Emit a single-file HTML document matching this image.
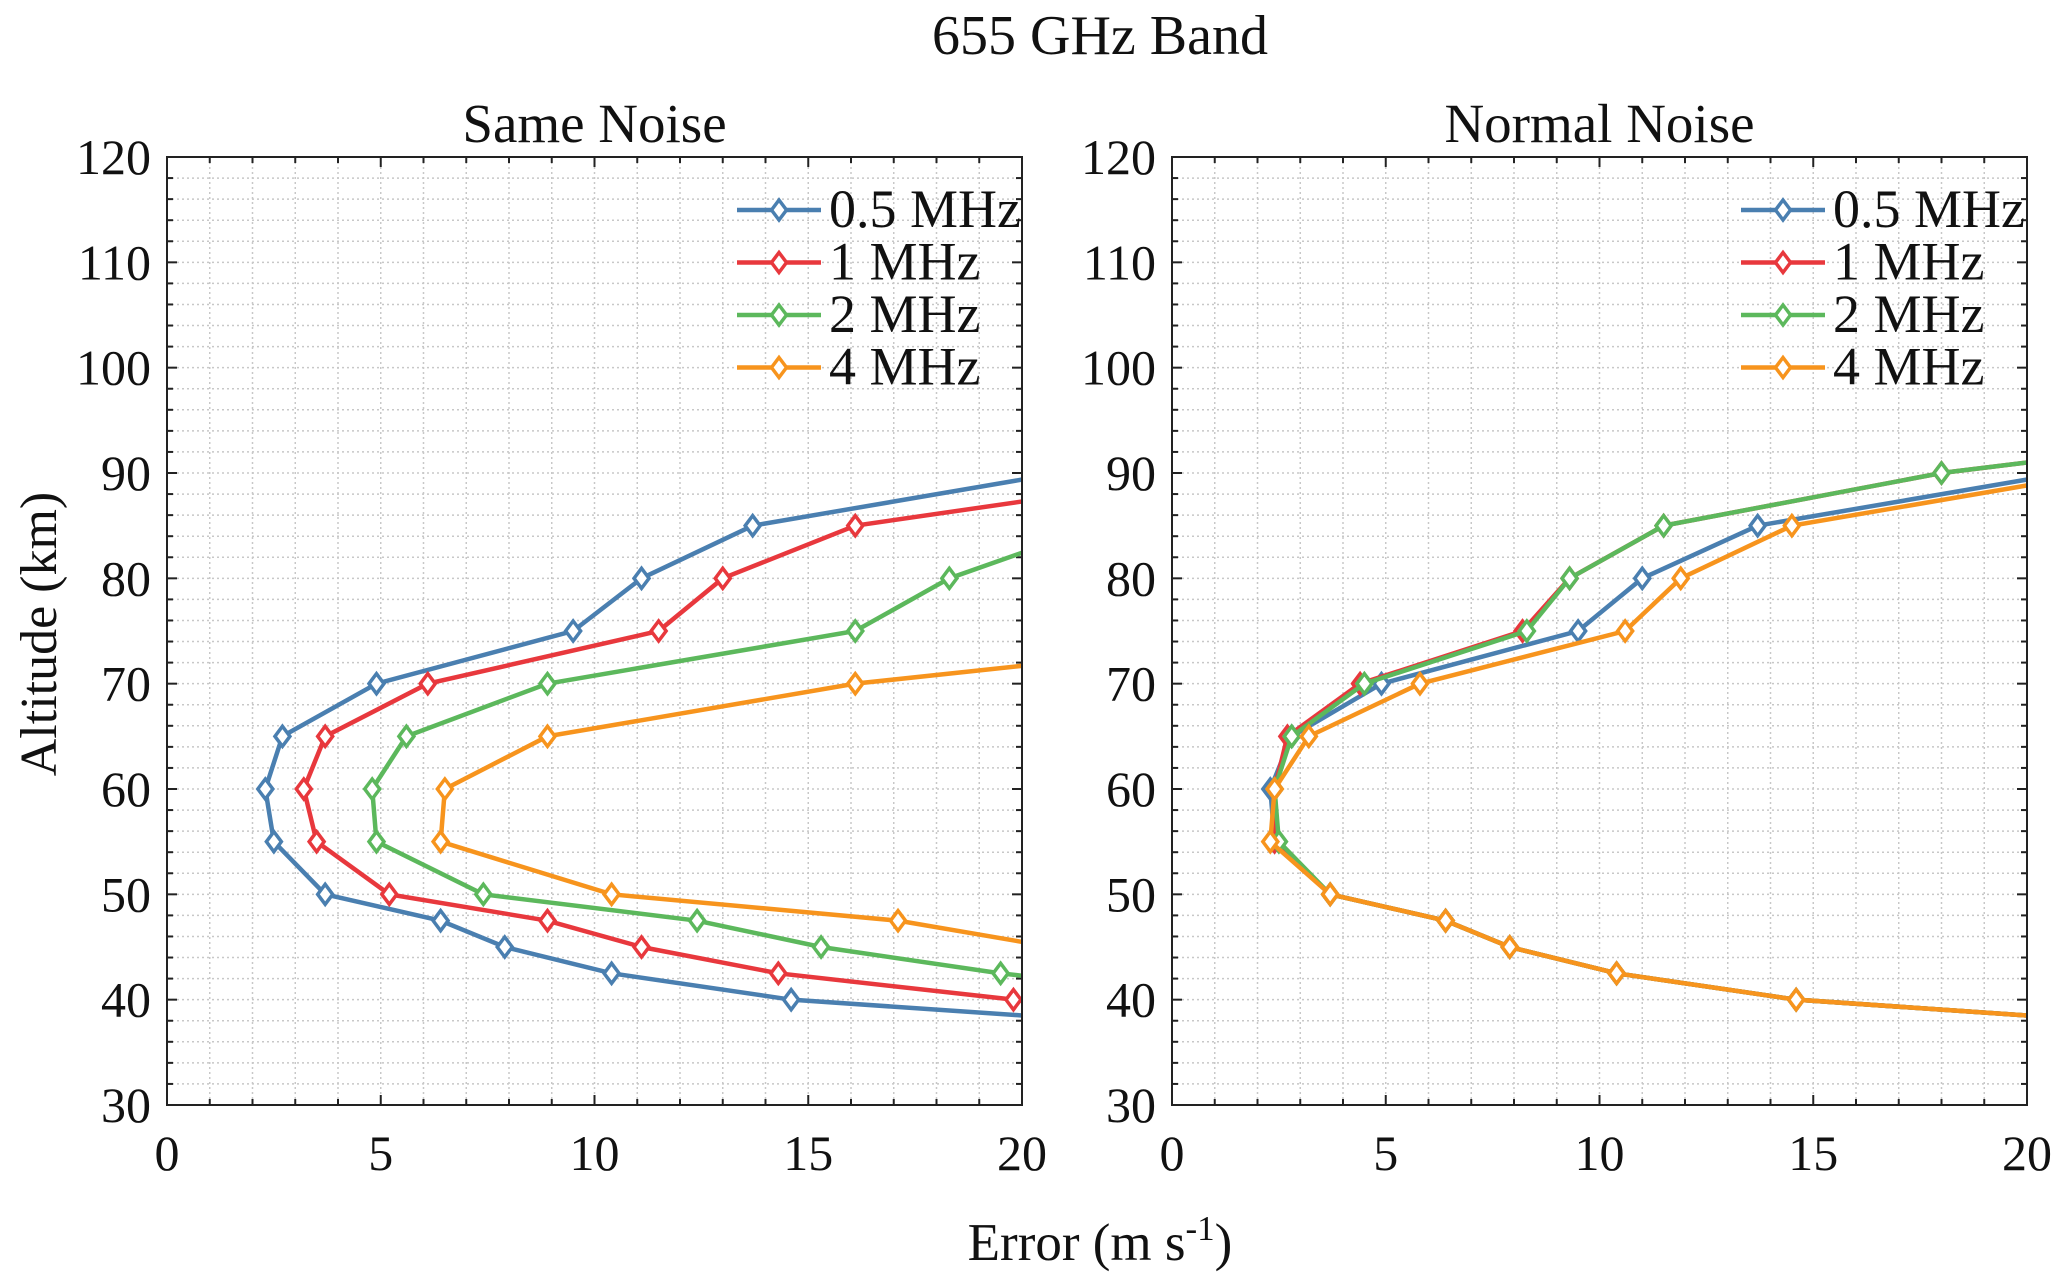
<!DOCTYPE html>
<html><head><meta charset="utf-8"><style>
html,body{margin:0;padding:0;background:#fff;}
svg text{font-family:"Liberation Serif",serif;fill:#111;}
</style></head><body>
<svg id="chart" width="2067" height="1281" viewBox="0 0 2067 1281" xmlns="http://www.w3.org/2000/svg">
<text x="1100" y="54" font-size="56" text-anchor="middle">655 GHz Band</text>
<text x="1100" y="1260" font-size="53" text-anchor="middle">Error (m s<tspan dy="-20" font-size="35">-1</tspan><tspan dy="20">)</tspan></text>
<text transform="translate(56,634) rotate(-90)" font-size="52" text-anchor="middle">Altitude (km)</text>
<g id="p1"></g><g id="p2"></g>
</svg>
<script>
const altitudes = [37.5,40,42.5,45,47.5,50,55,60,65,70,75,80,85,90,95];
const xTicks = [0,5,10,15,20];
const yTicks = [30,40,50,60,70,80,90,100,110,120];
const seriesNames = ['0.5 MHz','1 MHz','2 MHz','4 MHz'];
const colors = ['#4a7fb0','#e8383d','#5cb85c','#f7941d'];
// Same Noise values (null = absent)
const same05 = [23.6,14.6,10.4,7.9,6.4,3.7,2.5,2.3,2.7,4.9,9.5,11.1,13.7,20.9,null];
const same1  = [25.0,19.8,14.3,11.1,8.9,5.2,3.5,3.2,3.7,6.1,11.5,13.0,16.1,24.6,null];
const same2  = [null,25.0,19.5,15.3,12.4,7.4,4.9,4.8,5.6,8.9,16.1,18.3,21.8,null,null];
const same4  = [null,null,null,20.7,17.1,10.4,6.4,6.5,8.9,16.1,27.6,null,null,null,null];
// Normal Noise values
const norm05 = [23.6,14.6,10.4,7.9,6.4,3.7,2.4,2.3,2.8,4.9,9.5,11.0,13.7,20.9,null];
const norm1  = [23.6,14.6,10.4,7.9,6.4,3.7,2.4,2.4,2.7,4.4,8.2,9.3,11.5,18.0,28.0];
const norm2  = [23.6,14.6,10.4,7.9,6.4,3.7,2.5,2.4,2.8,4.5,8.3,9.3,11.5,18.0,28.0];
const norm4  = [23.6,14.6,10.4,7.9,6.4,3.7,2.3,2.4,3.2,5.8,10.6,11.9,14.5,21.7,null];

const NS='http://www.w3.org/2000/svg';
function mk(tag,attrs,parent){const e=document.createElementNS(NS,tag);for(const k in attrs)e.setAttribute(k,attrs[k]);parent.appendChild(e);return e;}
function diamond(g,x,y,c){const s=10,w=7.5;return mk('polygon',{points:`${x},${y-s} ${x+w},${y} ${x},${y+s} ${x-w},${y}`,fill:'#fff',stroke:c,'stroke-width':3.5},g);}

function panel(gid,L,title,data,legX){
  const T=157,B=1105,R=L+855;
  const xs=v=>L+(v-0)/(20-0)*(R-L);
  const ys=v=>B-(v-30)/(120-30)*(B-T);
  const g=document.getElementById(gid);
  
  
  for(let v=1;v<20;v++){const l=mk('line',{x1:xs(v),x2:xs(v),y1:T,y2:B,stroke:'#c8c8c8','stroke-width':1.5,'stroke-dasharray':'2,3'},g);
    
    }
  for(let v=32;v<120;v+=2){const l=mk('line',{x1:L,x2:R,y1:ys(v),y2:ys(v),stroke:'#c8c8c8','stroke-width':1.5,'stroke-dasharray':'2,3'},g);
    
    }
  for(let v=0;v<=20;v++){const len=v%5===0?10:6;
    mk('line',{x1:xs(v),x2:xs(v),y1:B,y2:B-len,stroke:'#222','stroke-width':2},g);
    mk('line',{x1:xs(v),x2:xs(v),y1:T,y2:T+len,stroke:'#222','stroke-width':2},g);}
  for(let v=30;v<=120;v+=2){const len=v%10===0?10:6;
    mk('line',{x1:L,x2:L+len,y1:ys(v),y2:ys(v),stroke:'#222','stroke-width':2},g);
    mk('line',{x1:R,x2:R-len,y1:ys(v),y2:ys(v),stroke:'#222','stroke-width':2},g);}
  xTicks.forEach(v=>{const t=mk('text',{x:xs(v),y:1170,'font-size':50,'text-anchor':'middle'},g);t.textContent=v;
    
    });
  yTicks.forEach(v=>{const t=mk('text',{x:L-16,y:ys(v)+17,'font-size':50,'text-anchor':'end'},g);t.textContent=v;
    
    });
  const tt=mk('text',{x:(L+R)/2,y:142,'font-size':55,'text-anchor':'middle'},g);tt.textContent=title;
  
  
  const cid='clip'+gid;const cp=mk('clipPath',{id:cid},g);mk('rect',{x:L,y:T,width:R-L,height:B-T},cp);
  const pg=mk('g',{'clip-path':`url(#${cid})`},g);
  data.forEach((vals,i)=>{
    const pts=[];vals.forEach((v,j)=>{if(v!==null)pts.push([xs(v),ys(altitudes[j])]);});
    const pl=mk('polyline',{points:pts.map(p=>p.join(',')).join(' '),fill:'none',stroke:colors[i],'stroke-width':4.5},pg);
    
    
    pts.forEach(p=>{const d=diamond(pg,p[0],p[1],colors[i]);
      
      });
  });
  mk('rect',{x:L,y:T,width:R-L,height:B-T,fill:'none',stroke:'#222','stroke-width':2},g);
  seriesNames.forEach((n,i)=>{const y=210+i*52.5;
    const lg=mk('g',{},g);
    
    
    mk('line',{x1:legX,x2:legX+84,y1:y,y2:y,stroke:colors[i],'stroke-width':4.5},lg);
    diamond(lg,legX+42,y,colors[i]);
    const t=mk('text',{x:legX+92,y:y+17,'font-size':54},lg);t.textContent=n;});
}
panel('p1',167,'Same Noise',[same05,same1,same2,same4],737);
panel('p2',1172,'Normal Noise',[norm05,norm1,norm2,norm4],1741);
</script>
</body></html>
